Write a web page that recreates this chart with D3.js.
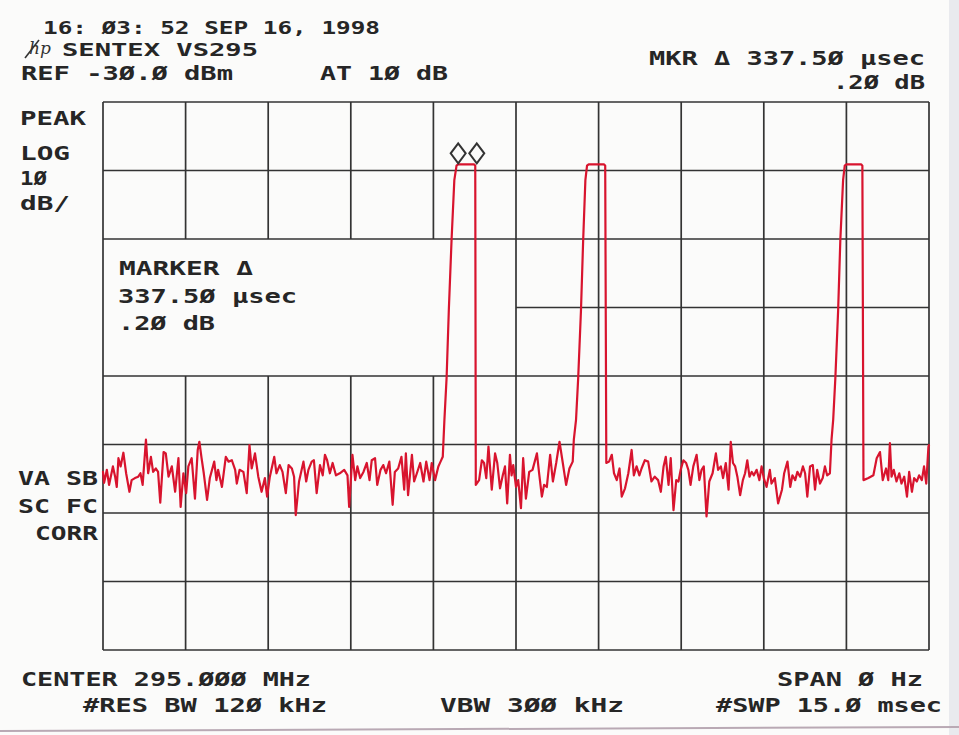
<!DOCTYPE html>
<html><head><meta charset="utf-8">
<script src="https://cdn.jsdelivr.net/npm/d3@7"></script>
<style>body{margin:0;background:#fbfbfa;overflow:hidden}</style>
</head><body>
<svg id="c" width="959" height="735"></svg>
<script>
// ---------- DATA ----------
// sweep time (ms) vs. level (dBm); span 0 Hz, sweep 15 ms, ref -30 dBm, 10 dB/div
const sweepTicks = [0, 1.5, 3, 4.5, 6, 7.5, 9, 10.5, 12, 13.5, 15];       // ms
const levelTicks = [-30, -40, -50, -60, -70, -80, -90, -100, -110];        // dBm

const noise1 = [[0,-84.0],[0.02,-85.6],[0.07,-83.7],[0.11,-85.9],[0.18,-83.2],[0.22,-84.7],[0.25,-86.2],[0.28,-82.0],[0.32,-83.2],[0.37,-81.2],[0.42,-84.2],[0.48,-86.9],[0.52,-85.2],[0.58,-84.9],[0.64,-84.7],[0.68,-84.2],[0.72,-85.9],[0.78,-79.3],[0.82,-84.2],[0.87,-81.8],[0.91,-84.0],[0.96,-83.5],[1.00,-84.0],[1.04,-88.5],[1.10,-81.1],[1.14,-81.3],[1.19,-84.7],[1.25,-83.2],[1.31,-86.9],[1.37,-82.0],[1.41,-89.1],[1.46,-84.2],[1.51,-87.1],[1.55,-83.2],[1.61,-82.0],[1.67,-87.9],[1.72,-80.8],[1.75,-79.6],[1.79,-82.0],[1.83,-84.2],[1.89,-88.1],[1.94,-84.9],[2.02,-82.5],[2.06,-85.2],[2.09,-83.7],[2.16,-86.2],[2.23,-81.8],[2.28,-82.5],[2.34,-82.3],[2.40,-83.7],[2.43,-85.7],[2.48,-83.7],[2.55,-84.0],[2.61,-87.1],[2.66,-80.1],[2.70,-83.5],[2.76,-81.3],[2.82,-84.7],[2.88,-86.9],[2.94,-84.9],[2.98,-87.6],[3.03,-84.7],[3.11,-81.8],[3.15,-84.2],[3.21,-83.0],[3.26,-84.0],[3.32,-87.1],[3.37,-83.0],[3.43,-83.5],[3.47,-84.7],[3.50,-90.3],[3.56,-85.4],[3.64,-82.5],[3.69,-85.4],[3.73,-83.7],[3.79,-82.5],[3.83,-82.3],[3.88,-87.1],[3.94,-83.0],[3.99,-84.5],[4.03,-81.5],[4.07,-82.3],[4.12,-84.2],[4.17,-82.7],[4.23,-84.5],[4.30,-84.2],[4.38,-83.7],[4.44,-84.5],[4.47,-89.1],[4.53,-81.5],[4.58,-85.2],[4.62,-83.2],[4.67,-84.9],[4.73,-84.0],[4.79,-82.7],[4.84,-85.2],[4.88,-82.3],[4.94,-82.0],[4.98,-85.9],[5.04,-83.7],[5.09,-83.0],[5.14,-84.2],[5.20,-82.5],[5.26,-88.8],[5.30,-84.0],[5.36,-83.5],[5.42,-81.8],[5.47,-86.6],[5.50,-81.3],[5.54,-87.4],[5.61,-81.5],[5.65,-85.4],[5.70,-84.2],[5.76,-82.7],[5.82,-85.4],[5.87,-82.5],[5.93,-85.2],[5.97,-82.7],[6.03,-85.2],[6.09,-83.2],[6.13,-82.5],[6.17,-81.8]];
const pulse1 = [[6.20,-76.4],[6.24,-70.2],[6.28,-60.4],[6.33,-50.1],[6.38,-41.4],[6.42,-39.3],[6.45,-39.1],[6.74,-39.1],[6.76,-39.3],[6.77,-85.9]];
const noise2 = [[6.83,-85.2],[6.88,-82.3],[6.92,-82.7],[6.96,-84.9],[7.00,-80.3],[7.06,-86.6],[7.12,-81.3],[7.16,-82.7],[7.21,-86.4],[7.26,-84.5],[7.30,-83.2],[7.34,-88.6],[7.39,-81.5],[7.42,-84.5],[7.45,-83.0],[7.50,-86.2],[7.54,-85.2],[7.59,-89.3],[7.63,-82.0],[7.68,-87.9],[7.74,-84.0],[7.80,-83.7],[7.88,-81.3],[7.92,-84.2],[7.97,-87.6],[8.01,-85.9],[8.06,-86.2],[8.12,-81.5],[8.17,-85.4],[8.23,-82.7],[8.29,-79.6],[8.35,-82.7],[8.41,-85.9],[8.47,-83.5],[8.53,-82.5]];
const pulse2 = [[8.55,-79.3],[8.59,-76.4],[8.63,-70.2],[8.68,-60.4],[8.72,-50.1],[8.76,-41.4],[8.79,-39.3],[8.82,-39.1],[9.10,-39.1],[9.12,-39.3],[9.14,-82.7]];
const noise3 = [[9.19,-82.5],[9.24,-81.5],[9.28,-84.2],[9.33,-85.2],[9.38,-83.5],[9.42,-87.6],[9.48,-86.4],[9.54,-84.2],[9.60,-80.8],[9.64,-84.5],[9.69,-83.2],[9.74,-84.5],[9.78,-83.5],[9.84,-82.3],[9.90,-82.5],[9.96,-85.4],[10.02,-84.7],[10.08,-85.2],[10.13,-86.9],[10.18,-83.2],[10.22,-81.8],[10.27,-85.9],[10.31,-82.0],[10.36,-89.6],[10.41,-85.2],[10.45,-85.4],[10.49,-83.7],[10.54,-82.3],[10.59,-82.7],[10.63,-83.7],[10.67,-85.9],[10.72,-83.2],[10.78,-81.5],[10.83,-85.2],[10.87,-83.7],[10.91,-83.2],[10.96,-90.5],[11.01,-85.4],[11.07,-84.2],[11.13,-81.3],[11.17,-83.7],[11.22,-83.2],[11.26,-84.9],[11.31,-82.7],[11.36,-86.6],[11.40,-79.6],[11.44,-82.7],[11.48,-83.2],[11.52,-84.7],[11.57,-87.4],[11.62,-85.2],[11.66,-84.2],[11.70,-82.3],[11.74,-84.7],[11.78,-84.0],[11.82,-84.5],[11.87,-83.7],[11.92,-85.2],[11.96,-83.2],[12.00,-84.9],[12.05,-86.2],[12.11,-83.7],[12.14,-85.7],[12.20,-84.9],[12.26,-88.6],[12.33,-86.6],[12.37,-84.2],[12.43,-82.5],[12.48,-86.2],[12.52,-84.5],[12.57,-85.2],[12.61,-84.0],[12.66,-84.7],[12.71,-83.2],[12.75,-84.2],[12.79,-87.6],[12.84,-83.2],[12.89,-83.0],[12.93,-86.6],[12.97,-83.7],[13.02,-85.7],[13.07,-84.9],[13.11,-83.2],[13.15,-84.5],[13.20,-84.2]];
const pulse3 = [[13.23,-79.3],[13.26,-76.4],[13.30,-70.2],[13.35,-60.4],[13.39,-50.1],[13.44,-41.4],[13.47,-39.3],[13.50,-39.1],[13.77,-39.1],[13.79,-39.3],[13.81,-85.2]];
const noise4 = [[13.90,-84.9],[13.99,-84.5],[14.05,-82.0],[14.11,-81.1],[14.16,-85.2],[14.22,-83.5],[14.26,-85.2],[14.29,-79.8],[14.32,-84.7],[14.36,-83.7],[14.41,-85.4],[14.46,-84.2],[14.50,-85.7],[14.55,-84.7],[14.60,-87.6],[14.64,-84.0],[14.69,-86.9],[14.73,-84.9],[14.78,-85.4],[14.82,-84.5],[14.87,-85.2],[14.91,-83.2],[14.95,-85.7],[14.99,-80.3],[15.0,-80.1]];

const markerTimes = [6.45, 6.7875];   // ms (delta 337.50 µsec)
const markerLevel = -39.1;            // dBm

const headerTexts = ["16: Ø3: 52 SEP 16,  1998", "SENTEX VS295", "REF -3Ø.Ø dBm", "AT 1Ø dB",
                     "MKR Δ 337.5Ø µsec", ".2Ø dB"];
const sideTexts = ["PEAK", "LOG", "1Ø", "dB/", "VA SB", "SC FC", "CORR"];
const markerTexts = ["MARKER Δ", "337.5Ø µsec", ".2Ø dB"];
const footerTexts = ["CENTER 295.ØØØ MHz", "SPAN Ø Hz", "#RES BW 12Ø kHz", "VBW 3ØØ kHz", "#SWP 15.Ø msec"];

// ---------- DRAW ----------
const svg = d3.select("#c");
const x = d3.scaleLinear().domain([0, 15]).range([103, 929]);
const y = d3.scaleLinear().domain([-110, -30]).range([650, 102]);

// paper edges
svg.append("rect").attr("x",0).attr("y",0).attr("width",959).attr("height",735).attr("fill","#fbfbfa");
svg.append("rect").attr("x",949).attr("y",0).attr("width",10).attr("height",735).attr("fill","#e9eaee");
svg.append("line").attr("x1",0).attr("x2",959).attr("y1",731).attr("y2",727).attr("stroke","#b9a9b4").attr("stroke-width",2);

const grid = svg.append("g").attr("stroke","#333").attr("stroke-width",1.7).attr("fill","none");
// blank annotation window: between sweep 0..7.5 ms and level -50..-70 dBm
sweepTicks.forEach((t, i) => {
  if (i > 0 && t < 7.5) {
    grid.append("line").attr("x1",x(t)).attr("x2",x(t)).attr("y1",y(-30)).attr("y2",y(-50));
    grid.append("line").attr("x1",x(t)).attr("x2",x(t)).attr("y1",y(-70)).attr("y2",y(-110));
  } else {
    grid.append("line").attr("x1",x(t)).attr("x2",x(t)).attr("y1",y(-30)).attr("y2",y(-110));
  }
});
levelTicks.forEach(l => {
  const x0 = (l === -60) ? x(7.5) : x(0);
  grid.append("line").attr("x1",x0).attr("x2",x(15)).attr("y1",y(l)).attr("y2",y(l));
});

// trace
const trace = [].concat(noise1, pulse1, noise2, pulse2, noise3, pulse3, noise4);
const line = d3.line().x(d => x(d[0])).y(d => y(d[1]));
svg.append("path").datum(trace).attr("d", line)
  .attr("fill","none").attr("stroke","#d8142e").attr("stroke-width",2.2)
  .attr("stroke-linejoin","round").attr("stroke-linecap","round");

// markers (diamonds sitting on the trace)
svg.selectAll("path.mk").data(markerTimes).join("path").attr("class","mk")
  .attr("d", t => { const cx = x(t), by = y(markerLevel) - 1; return `M${cx},${by} L${cx+7.5},${by-10} L${cx},${by-20} L${cx-7.5},${by-10} Z`; })
  .attr("fill","none").attr("stroke","#333").attr("stroke-width",2);

// text
const txt = svg.append("g").attr("fill","#262626")
  .style("font-family","'DejaVu Sans Mono', monospace").style("font-weight","bold").style("font-size","20px");
function put(s, x0, x1, yb, fs) {
  const t = txt.append("text").attr("x",x0).attr("y",yb).attr("textLength",x1-x0)
    .attr("lengthAdjust","spacingAndGlyphs").text(s);
  if (fs) t.style("font-size", fs + "px");
}
put(headerTexts[0], 43, 380, 34, 18);
put(headerTexts[1], 62, 258, 56, 18);
put(headerTexts[2], 21, 233, 80);
put(headerTexts[3], 320, 448, 80);
put(headerTexts[4], 649, 925, 65);
put(headerTexts[5], 833, 925, 89);

put(sideTexts[0], 20, 86, 125);
put(sideTexts[1], 20, 70, 160);
put(sideTexts[2], 20, 47, 185);
put(sideTexts[3], 20, 70, 210);
put(sideTexts[4], 18, 98, 485);
put(sideTexts[5], 18, 98, 513);
put(sideTexts[6], 35, 98, 540);

put(markerTexts[0], 119, 253, 275);
put(markerTexts[1], 118, 297, 303);
put(markerTexts[2], 118, 215, 330);

put(footerTexts[0], 21, 311, 686);
put(footerTexts[1], 777, 923, 686);
put(footerTexts[2], 83, 327, 712);
put(footerTexts[3], 440, 624, 712);
put(footerTexts[4], 716, 942, 712);

// hp logo
const logo = svg.append("g").attr("fill","none").attr("stroke","#333").attr("stroke-width",1.6);
logo.append("text").attr("x",29).attr("y",54).attr("fill","#333").attr("stroke","none")
  .style("font-family","'DejaVu Serif', serif").style("font-style","italic").style("font-size","17px").text("hp");
logo.append("line").attr("x1",25).attr("y1",58).attr("x2",39).attr("y2",40);
</script></body></html>
